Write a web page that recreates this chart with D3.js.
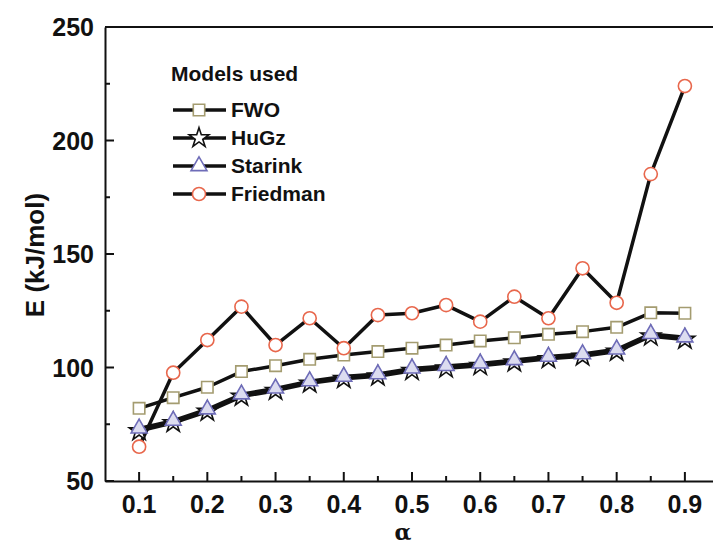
<!DOCTYPE html>
<html>
<head>
<meta charset="utf-8">
<script src="https://cdn.jsdelivr.net/npm/d3@7"></script>
<style>
  html, body { margin: 0; padding: 0; background: #ffffff; }
  svg { display: block; font-family: "Liberation Sans", Arial, sans-serif; }
</style>
</head>
<body>
<svg id="chart" width="713" height="548"></svg>
<script>
// Conversion levels
const alpha = [0.1, 0.15, 0.2, 0.25, 0.3, 0.35, 0.4, 0.45, 0.5, 0.55, 0.6, 0.65, 0.7, 0.75, 0.8, 0.85, 0.9];

// Activation energy, kJ/mol, per model
const fwo      = [82.0, 86.7, 91.3, 98.2, 100.8, 103.6, 105.5, 107.0, 108.5, 109.9, 111.7, 113.1, 114.6, 115.8, 117.7, 124.1, 123.9];
const hugz     = [72.0, 75.6, 80.6, 87.2, 89.8, 93.0, 95.0, 96.1, 98.6, 99.7, 100.8, 102.3, 103.8, 104.9, 107.0, 113.8, 112.3];
const starink  = [73.2, 76.6, 81.6, 88.2, 90.8, 94.0, 96.0, 97.1, 99.6, 100.7, 101.8, 103.3, 104.8, 105.9, 108.0, 114.8, 113.3];
const friedman = [65.1, 97.7, 112.1, 126.8, 109.9, 121.7, 108.5, 123.1, 123.9, 127.5, 120.2, 131.2, 121.7, 143.7, 128.5, 185.2, 224.0];

const xTicks = [0.1, 0.2, 0.3, 0.4, 0.5, 0.6, 0.7, 0.8, 0.9];
const yTicks = [50, 100, 150, 200, 250];

const svg = d3.select("#chart");
const mLeft = 105, mTop = 27, mBottom = 481, mRight = 719;

const x = d3.scaleLinear().domain([0.05, 0.95]).range([mLeft, mRight]);
const y = d3.scaleLinear().domain([50, 250]).range([mBottom, mTop]);

// Frame (top and right edges)
svg.append("path")
  .attr("d", `M${mLeft},${mTop}H${mRight}V${mBottom}`)
  .attr("fill", "none").attr("stroke", "#111").attr("stroke-width", 2);

// Bottom axis with inward ticks
const xAxis = svg.append("g").attr("transform", `translate(0,${mBottom})`);
xAxis.call(d3.axisBottom(x).tickValues(xTicks).tickSize(0).tickFormat(""));
xAxis.select(".domain").attr("stroke", "#111").attr("stroke-width", 2);
xAxis.selectAll(".tick").remove();
const xMinor = alpha.filter((a, i) => i % 2 === 1);
xAxis.selectAll("line.major").data(xTicks).join("line")
  .attr("x1", d => x(d)).attr("x2", d => x(d)).attr("y1", 0).attr("y2", -9)
  .attr("stroke", "#111").attr("stroke-width", 2);
xAxis.selectAll("line.minor").data(xMinor).join("line")
  .attr("x1", d => x(d)).attr("x2", d => x(d)).attr("y1", 0).attr("y2", -5)
  .attr("stroke", "#111").attr("stroke-width", 2);
xAxis.selectAll("text.lbl").data(xTicks).join("text")
  .attr("x", d => x(d)).attr("y", 32)
  .attr("text-anchor", "middle")
  .attr("font-size", 25).attr("font-weight", "bold").attr("fill", "#111")
  .text(d => d.toFixed(1));

// Left axis with inward ticks
const yAxis = svg.append("g").attr("transform", `translate(${mLeft},0)`);
yAxis.call(d3.axisLeft(y).tickValues(yTicks).tickSize(0).tickFormat(""));
yAxis.select(".domain").attr("stroke", "#111").attr("stroke-width", 2);
yAxis.selectAll(".tick").remove();
const yMinor = [75, 125, 175, 225];
yAxis.selectAll("line.major").data(yTicks).join("line")
  .attr("x1", 0).attr("x2", 9).attr("y1", d => y(d)).attr("y2", d => y(d))
  .attr("stroke", "#111").attr("stroke-width", 2);
yAxis.selectAll("line.minor").data(yMinor).join("line")
  .attr("x1", 0).attr("x2", 5).attr("y1", d => y(d)).attr("y2", d => y(d))
  .attr("stroke", "#111").attr("stroke-width", 2);
yAxis.selectAll("text.lbl").data(yTicks).join("text")
  .attr("x", -11).attr("y", d => y(d) + 9)
  .attr("text-anchor", "end")
  .attr("font-size", 25).attr("font-weight", "bold").attr("fill", "#111")
  .text(d => d);

// Axis titles
svg.append("text")
  .attr("transform", `translate(44,255) rotate(-90)`)
  .attr("text-anchor", "middle")
  .attr("font-size", 26).attr("font-weight", "bold").attr("fill", "#111")
  .text("E (kJ/mol)");
svg.append("text")
  .attr("x", 403).attr("y", 540)
  .attr("text-anchor", "middle")
  .attr("font-size", 22).attr("font-weight", "bold").attr("fill", "#111")
  .attr("font-family", "'DejaVu Serif', serif")
  .text("α");

// Marker shapes
const markers = {
  square:   { path: d3.symbol(d3.symbolSquare, 130)(),   stroke: "#a49c70", fill: "#ffffff" },
  star:     { path: d3.symbol(d3.symbolStar, 120)(),     stroke: "#111111", fill: "#ffffff" },
  triangle: { path: d3.symbol(d3.symbolTriangle, 110)(), stroke: "#6e6cb8", fill: "#dcdcf0" },
  circle:   { path: d3.symbol(d3.symbolCircle, 135)(),   stroke: "#e8674c", fill: "#ffffff" }
};

const series = [
  { name: "FWO",      values: fwo,      marker: "square" },
  { name: "HuGz",     values: hugz,     marker: "star" },
  { name: "Starink",  values: starink,  marker: "triangle" },
  { name: "Friedman", values: friedman, marker: "circle" }
];

const line = d3.line().x(d => x(d[0])).y(d => y(d[1]));
const plot = svg.append("g");

series.forEach(s => {
  const pts = alpha.map((a, i) => [a, s.values[i]]);
  plot.append("path")
    .attr("d", line(pts))
    .attr("fill", "none").attr("stroke", "#111").attr("stroke-width", 3.5)
    .attr("stroke-linejoin", "round");
});
series.forEach(s => {
  const pts = alpha.map((a, i) => [a, s.values[i]]);
  const m = markers[s.marker];
  plot.selectAll(null).data(pts).join("path")
    .attr("d", m.path)
    .attr("transform", d => `translate(${x(d[0])},${y(d[1])})`)
    .attr("fill", m.fill).attr("stroke", m.stroke).attr("stroke-width", 1.6);
});

// Legend
const legend = svg.append("g");
legend.append("text")
  .attr("x", 171).attr("y", 81)
  .attr("font-size", 21).attr("font-weight", "bold").attr("fill", "#111")
  .text("Models used");
series.forEach((s, i) => {
  const ly = 110 + i * 28;
  const m = markers[s.marker];
  legend.append("line")
    .attr("x1", 173).attr("x2", 226).attr("y1", ly).attr("y2", ly)
    .attr("stroke", "#111").attr("stroke-width", 3.5);
  legend.append("path")
    .attr("d", m.path)
    .attr("transform", `translate(199,${ly})`)
    .attr("fill", s.marker === "triangle" ? "#ffffff" : m.fill)
    .attr("stroke", m.stroke).attr("stroke-width", 1.6);
  legend.append("text")
    .attr("x", 231).attr("y", ly + 7)
    .attr("font-size", 21).attr("font-weight", "bold").attr("fill", "#111")
    .text(s.name);
});
</script>
</body>
</html>
